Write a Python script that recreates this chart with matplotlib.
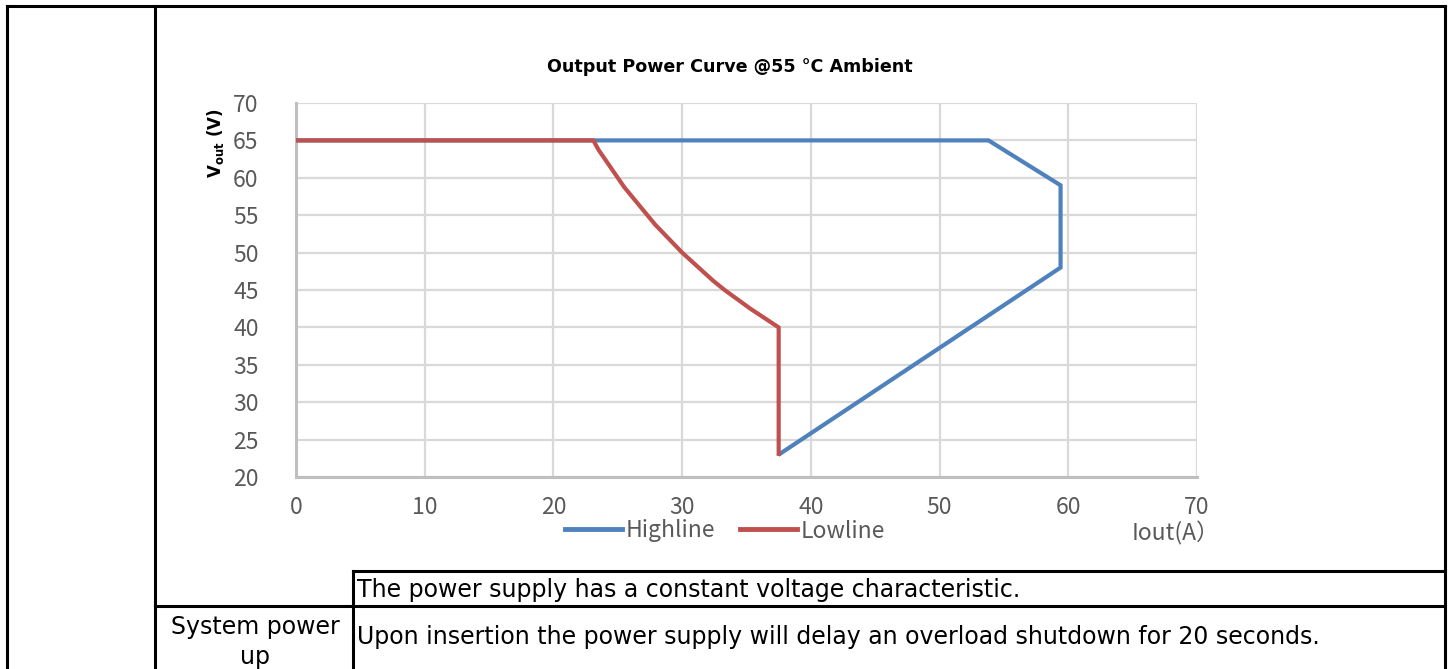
import matplotlib
matplotlib.use("Agg")
import matplotlib.pyplot as plt
from matplotlib.lines import Line2D

# ---- data ----
high_x = [0, 53.8, 59.4, 59.4, 37.6]
high_y = [65, 65, 59, 48, 23.1]
low_x = [0, 23.1, 23.5, 24.0, 24.5, 25.0, 25.5, 26.1, 26.7, 27.3, 27.9, 28.6, 29.3,
         30.0, 30.8, 31.6, 32.4, 33.3, 34.3, 35.3, 36.4, 37.5, 37.5]
low_y = [65, 65, 63.75, 62.5, 61.25, 60, 58.75, 57.5, 56.25, 55, 53.75, 52.5, 51.25,
         50, 48.75, 47.5, 46.25, 45, 43.75, 42.5, 41.25, 40, 23.1]
x_ticks = [0, 10, 20, 30, 40, 50, 60, 70]
y_ticks = [20, 25, 30, 35, 40, 45, 50, 55, 60, 65, 70]
series_names = ["Highline", "Lowline"]
title = "Output Power Curve @55 °C Ambient"
row1_text = "The power supply has a constant voltage characteristic."
row2_label = "System power\nup"
row2_text = "Upon insertion the power supply will delay an overload shutdown for 20 seconds."

W, H = 1449, 669
fig = plt.figure(figsize=(W / 100, H / 100), dpi=100)
fig.patch.set_facecolor("white")

def fx(px):
    return px / W

def fy(py):
    return 1 - py / H

ax = fig.add_axes([fx(296), fy(477), fx(1197) - fx(296), fy(103) - fy(477)])
blue = "#4F81BD"
red = "#C0504D"
ax.plot(high_x, high_y, color=blue, lw=3, solid_joinstyle="miter", zorder=3)
ax.plot(low_x, low_y, color=red, lw=3, solid_joinstyle="round", zorder=4)
ax.set_xlim(0, 70)
ax.set_ylim(20, 70)
ax.set_xticks(x_ticks)
ax.set_yticks(y_ticks)
ax.grid(True, color="#d9d9d9", lw=1.6, zorder=0)
ax.set_axisbelow(True)
for s in ["top", "right"]:
    ax.spines[s].set_visible(False)
for s in ["left", "bottom"]:
    ax.spines[s].set_color("#bfbfbf")
    ax.spines[s].set_linewidth(2.2)
tick_font = ["Noto Sans CJK SC", "DejaVu Sans"]
tick_size = 16.5
ax.tick_params(length=0, labelsize=tick_size, labelcolor="#595959")
ax.tick_params(axis="x", pad=14)
ax.tick_params(axis="y", pad=27)
for lab in ax.get_xticklabels() + ax.get_yticklabels():
    lab.set_fontfamily(tick_font)

fig.text(fx(730), fy(67), title, ha="center", va="center",
         fontsize=12.6, fontweight="bold", family="DejaVu Sans")
fig.text(fx(215), fy(143), r"V$_\mathbf{out}$ (V)", rotation=90, ha="center",
         va="center", fontsize=12, fontweight="bold", family="DejaVu Sans")

handles = [Line2D([], [], color=blue, lw=3.5), Line2D([], [], color=red, lw=3.5)]
leg = fig.legend(handles, series_names, loc="center", bbox_to_anchor=(fx(725), fy(531)),
                 ncol=2, frameon=False, handlelength=2.5, handletextpad=0.15,
                 columnspacing=1.1, prop={"family": tick_font, "size": tick_size})
for t in leg.get_texts():
    t.set_color("#595959")
fig.text(fx(1176), fy(533), "Iout(A）", ha="center", va="center", fontsize=tick_size,
         color="#595959", family=tick_font)

# ---- table borders ----
def hline(y, x0, x1):
    fig.add_artist(Line2D([fx(x0), fx(x1)], [fy(y), fy(y)], color="black", lw=2.2,
                          transform=fig.transFigure, solid_capstyle="projecting"))

def vline(x, y0, y1):
    fig.add_artist(Line2D([fx(x), fx(x)], [fy(y0), fy(y1)], color="black", lw=2.2,
                          transform=fig.transFigure, solid_capstyle="projecting"))

hline(6, 7, 1445)
vline(7, 6, 669)
vline(155, 6, 669)
vline(1445, 6, 669)
hline(571, 353, 1445)
hline(606, 155, 1445)
vline(353, 571, 669)

table_font = "DejaVu Sans"
fig.text(fx(357), fy(590), row1_text, ha="left", va="center", fontsize=17,
         family=table_font, color="black")
fig.text(fx(357), fy(637), row2_text, ha="left", va="center", fontsize=17,
         family=table_font, color="black")
fig.text(fx(255), fy(642), row2_label, ha="center", va="center", fontsize=17,
         family=table_font, color="black", linespacing=1.3)

fig.savefig("out.png", dpi=100, facecolor="white")
